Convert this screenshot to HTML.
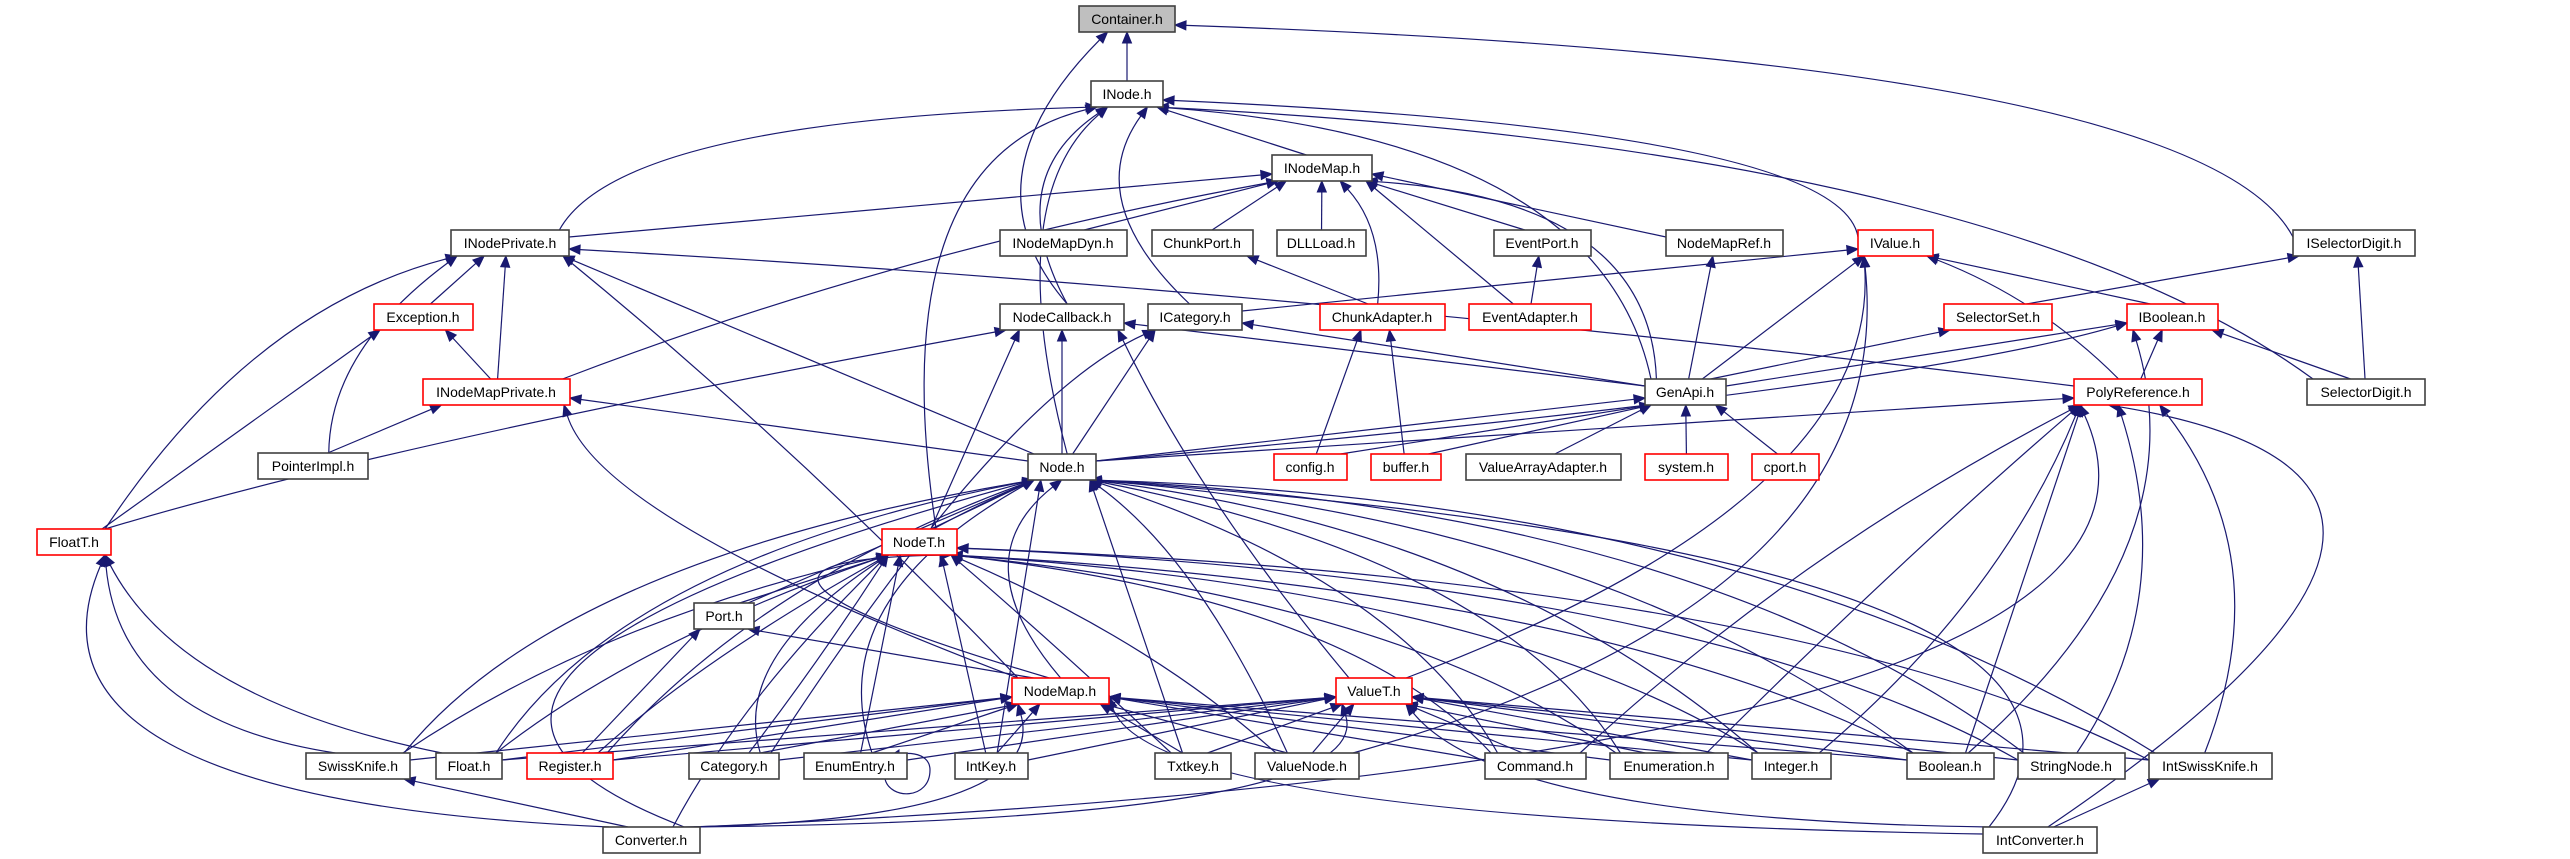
<!DOCTYPE html>
<html><head><meta charset="utf-8">
<style>
html,body{margin:0;padding:0;background:#fff;width:2570px;height:859px;overflow:hidden}
svg{display:block}
text{font-family:"Liberation Sans",sans-serif;font-size:14px;fill:#000}
</style></head>
<body>
<svg id="g" width="2570" height="859" viewBox="0 0 2570 859" xmlns="http://www.w3.org/2000/svg">
<g id="edges" fill="none" stroke="#191970" stroke-width="1.2"></g>
<g id="heads" fill="#191970" stroke="#191970"></g>
<g id="nodes" stroke-width="1.6">
<rect x="1079" y="6" width="96" height="26" fill="#bfbfbf" stroke="#404040"/><text x="1127" y="24" text-anchor="middle">Container.h</text>
<rect x="1091" y="81" width="72" height="26" fill="#fff" stroke="#404040"/><text x="1127" y="99" text-anchor="middle">INode.h</text>
<rect x="1272" y="155" width="100" height="26" fill="#fff" stroke="#404040"/><text x="1322" y="173" text-anchor="middle">INodeMap.h</text>
<rect x="451" y="230" width="118" height="26" fill="#fff" stroke="#404040"/><text x="510" y="248" text-anchor="middle">INodePrivate.h</text>
<rect x="1000" y="230" width="127" height="26" fill="#fff" stroke="#404040"/><text x="1063" y="248" text-anchor="middle">INodeMapDyn.h</text>
<rect x="1152" y="230" width="101" height="26" fill="#fff" stroke="#404040"/><text x="1202" y="248" text-anchor="middle">ChunkPort.h</text>
<rect x="1277" y="230" width="89" height="26" fill="#fff" stroke="#404040"/><text x="1321" y="248" text-anchor="middle">DLLLoad.h</text>
<rect x="1494" y="230" width="97" height="26" fill="#fff" stroke="#404040"/><text x="1542" y="248" text-anchor="middle">EventPort.h</text>
<rect x="1666" y="230" width="117" height="26" fill="#fff" stroke="#404040"/><text x="1724" y="248" text-anchor="middle">NodeMapRef.h</text>
<rect x="1858" y="230" width="75" height="26" fill="#fff" stroke="#ff0000"/><text x="1895" y="248" text-anchor="middle">IValue.h</text>
<rect x="2293" y="230" width="122" height="26" fill="#fff" stroke="#404040"/><text x="2354" y="248" text-anchor="middle">ISelectorDigit.h</text>
<rect x="374" y="304" width="99" height="26" fill="#fff" stroke="#ff0000"/><text x="423" y="322" text-anchor="middle">Exception.h</text>
<rect x="1000" y="304" width="124" height="26" fill="#fff" stroke="#404040"/><text x="1062" y="322" text-anchor="middle">NodeCallback.h</text>
<rect x="1148" y="304" width="94" height="26" fill="#fff" stroke="#404040"/><text x="1195" y="322" text-anchor="middle">ICategory.h</text>
<rect x="1320" y="304" width="125" height="26" fill="#fff" stroke="#ff0000"/><text x="1382" y="322" text-anchor="middle">ChunkAdapter.h</text>
<rect x="1469" y="304" width="122" height="26" fill="#fff" stroke="#ff0000"/><text x="1530" y="322" text-anchor="middle">EventAdapter.h</text>
<rect x="1944" y="304" width="108" height="26" fill="#fff" stroke="#ff0000"/><text x="1998" y="322" text-anchor="middle">SelectorSet.h</text>
<rect x="2127" y="304" width="91" height="26" fill="#fff" stroke="#ff0000"/><text x="2172" y="322" text-anchor="middle">IBoolean.h</text>
<rect x="423" y="379" width="147" height="26" fill="#fff" stroke="#ff0000"/><text x="496" y="397" text-anchor="middle">INodeMapPrivate.h</text>
<rect x="1645" y="379" width="81" height="26" fill="#fff" stroke="#404040"/><text x="1685" y="397" text-anchor="middle">GenApi.h</text>
<rect x="2074" y="379" width="128" height="26" fill="#fff" stroke="#ff0000"/><text x="2138" y="397" text-anchor="middle">PolyReference.h</text>
<rect x="2307" y="379" width="118" height="26" fill="#fff" stroke="#404040"/><text x="2366" y="397" text-anchor="middle">SelectorDigit.h</text>
<rect x="258" y="453" width="110" height="26" fill="#fff" stroke="#404040"/><text x="313" y="471" text-anchor="middle">PointerImpl.h</text>
<rect x="1028" y="454" width="68" height="26" fill="#fff" stroke="#404040"/><text x="1062" y="472" text-anchor="middle">Node.h</text>
<rect x="1274" y="454" width="73" height="26" fill="#fff" stroke="#ff0000"/><text x="1310" y="472" text-anchor="middle">config.h</text>
<rect x="1371" y="454" width="70" height="26" fill="#fff" stroke="#ff0000"/><text x="1406" y="472" text-anchor="middle">buffer.h</text>
<rect x="1466" y="454" width="155" height="26" fill="#fff" stroke="#404040"/><text x="1543" y="472" text-anchor="middle">ValueArrayAdapter.h</text>
<rect x="1645" y="454" width="83" height="26" fill="#fff" stroke="#ff0000"/><text x="1686" y="472" text-anchor="middle">system.h</text>
<rect x="1752" y="454" width="67" height="26" fill="#fff" stroke="#ff0000"/><text x="1785" y="472" text-anchor="middle">cport.h</text>
<rect x="37" y="529" width="74" height="26" fill="#fff" stroke="#ff0000"/><text x="74" y="547" text-anchor="middle">FloatT.h</text>
<rect x="882" y="529" width="75" height="26" fill="#fff" stroke="#ff0000"/><text x="919" y="547" text-anchor="middle">NodeT.h</text>
<rect x="694" y="603" width="60" height="26" fill="#fff" stroke="#404040"/><text x="724" y="621" text-anchor="middle">Port.h</text>
<rect x="1012" y="678" width="97" height="26" fill="#fff" stroke="#ff0000"/><text x="1060" y="696" text-anchor="middle">NodeMap.h</text>
<rect x="1336" y="678" width="76" height="26" fill="#fff" stroke="#ff0000"/><text x="1374" y="696" text-anchor="middle">ValueT.h</text>
<rect x="306" y="753" width="104" height="26" fill="#fff" stroke="#404040"/><text x="358" y="771" text-anchor="middle">SwissKnife.h</text>
<rect x="436" y="753" width="66" height="26" fill="#fff" stroke="#404040"/><text x="469" y="771" text-anchor="middle">Float.h</text>
<rect x="527" y="753" width="86" height="26" fill="#fff" stroke="#ff0000"/><text x="570" y="771" text-anchor="middle">Register.h</text>
<rect x="689" y="753" width="90" height="26" fill="#fff" stroke="#404040"/><text x="734" y="771" text-anchor="middle">Category.h</text>
<rect x="804" y="753" width="103" height="26" fill="#fff" stroke="#404040"/><text x="855" y="771" text-anchor="middle">EnumEntry.h</text>
<rect x="955" y="753" width="73" height="26" fill="#fff" stroke="#404040"/><text x="991" y="771" text-anchor="middle">IntKey.h</text>
<rect x="1155" y="753" width="76" height="26" fill="#fff" stroke="#404040"/><text x="1193" y="771" text-anchor="middle">Txtkey.h</text>
<rect x="1255" y="753" width="104" height="26" fill="#fff" stroke="#404040"/><text x="1307" y="771" text-anchor="middle">ValueNode.h</text>
<rect x="1485" y="753" width="101" height="26" fill="#fff" stroke="#404040"/><text x="1535" y="771" text-anchor="middle">Command.h</text>
<rect x="1610" y="753" width="118" height="26" fill="#fff" stroke="#404040"/><text x="1669" y="771" text-anchor="middle">Enumeration.h</text>
<rect x="1752" y="753" width="79" height="26" fill="#fff" stroke="#404040"/><text x="1791" y="771" text-anchor="middle">Integer.h</text>
<rect x="1907" y="753" width="87" height="26" fill="#fff" stroke="#404040"/><text x="1950" y="771" text-anchor="middle">Boolean.h</text>
<rect x="2018" y="753" width="107" height="26" fill="#fff" stroke="#404040"/><text x="2071" y="771" text-anchor="middle">StringNode.h</text>
<rect x="2149" y="753" width="123" height="26" fill="#fff" stroke="#404040"/><text x="2210" y="771" text-anchor="middle">IntSwissKnife.h</text>
<rect x="603" y="827" width="97" height="26" fill="#fff" stroke="#404040"/><text x="651" y="845" text-anchor="middle">Converter.h</text>
<rect x="1983" y="827" width="114" height="26" fill="#fff" stroke="#404040"/><text x="2040" y="845" text-anchor="middle">IntConverter.h</text>
</g>
</svg>
<script>
var N={Container:[1079,6,1175],INode:[1091,81,1163],INodeMap:[1272,155,1372],INodePrivate:[451,230,569],INodeMapDyn:[1000,230,1127],ChunkPort:[1152,230,1253],DLLLoad:[1277,230,1366],EventPort:[1494,230,1591],NodeMapRef:[1666,230,1783],IValue:[1858,230,1933],ISelectorDigit:[2293,230,2415],Exception:[374,304,473],NodeCallback:[1000,304,1124],ICategory:[1148,304,1242],ChunkAdapter:[1320,304,1445],EventAdapter:[1469,304,1591],SelectorSet:[1944,304,2052],IBoolean:[2127,304,2218],INodeMapPrivate:[423,379,570],GenApi:[1645,379,1726],PolyReference:[2074,379,2202],SelectorDigit:[2307,379,2425],PointerImpl:[258,453,368],Node:[1028,454,1096],config:[1274,454,1347],buffer:[1371,454,1441],ValueArrayAdapter:[1466,454,1621],system:[1645,454,1728],cport:[1752,454,1819],FloatT:[37,529,111],NodeT:[882,529,957],Port:[694,603,754],NodeMap:[1012,678,1109],ValueT:[1336,678,1412],SwissKnife:[306,753,410],Float:[436,753,502],Register:[527,753,613],Category:[689,753,779],EnumEntry:[804,753,907],IntKey:[955,753,1028],Txtkey:[1155,753,1231],ValueNode:[1255,753,1359],Command:[1485,753,1586],Enumeration:[1610,753,1728],Integer:[1752,753,1831],Boolean:[1907,753,1994],StringNode:[2018,753,2125],IntSwissKnife:[2149,753,2272],Converter:[603,827,700],IntConverter:[1983,827,2097]};
var H=26;
var E=[
["INode","Container"],["NodeCallback","Container",[960,180]],["ISelectorDigit","Container",[2200,60]],
["INodeMap","INode"],["INodePrivate","INode",[620,120]],["NodeT","INode",[880,160]],["NodeCallback","INode",[1000,180]],["Node","INode",[1000,200]],["ICategory","INode",[1080,200]],["GenApi","INode",[1600,140]],["IValue","INode",[1840,130]],["SelectorDigit","INode",[2000,150]],
["INodePrivate","INodeMap"],["INodeMapPrivate","INodeMap",[900,250]],["INodeMapDyn","INodeMap"],["ChunkPort","INodeMap"],["DLLLoad","INodeMap"],["ChunkAdapter","INodeMap",[1385,230]],["EventAdapter","INodeMap"],["EventPort","INodeMap"],["NodeMapRef","INodeMap"],["GenApi","INodeMap",[1650,200]],
["Exception","INodePrivate"],["INodeMapPrivate","INodePrivate"],["PointerImpl","INodePrivate",[330,350]],["FloatT","INodePrivate",[250,310]],["Node","INodePrivate"],["NodeMap","INodePrivate",[800,450]],["PolyReference","INodePrivate",[1300,290]],
["INodeMapPrivate","Exception"],["FloatT","Exception"],
["PointerImpl","INodeMapPrivate"],["Node","INodeMapPrivate"],["NodeMap","INodeMapPrivate",[600,520]],
["ICategory","IValue"],["GenApi","IValue"],["ValueT","IValue",[1880,500]],["ValueNode","IValue",[1900,600]],["IBoolean","IValue"],["PolyReference","IValue",[2040,300]],
["GenApi","ICategory"],["Node","ICategory"],["Category","ICategory",[1000,400]],
["FloatT","NodeCallback",[400,440]],["GenApi","NodeCallback"],["Node","NodeCallback"],["NodeT","NodeCallback"],["ValueT","NodeCallback",[1200,500]],
["ChunkAdapter","ChunkPort"],["config","ChunkAdapter"],["buffer","ChunkAdapter"],["EventAdapter","EventPort"],["GenApi","NodeMapRef"],
["SelectorSet","ISelectorDigit"],["SelectorDigit","ISelectorDigit"],["GenApi","SelectorSet"],
["GenApi","IBoolean"],["PolyReference","IBoolean"],["SelectorDigit","IBoolean"],["Node","IBoolean",[1900,390]],["Boolean","IBoolean",[2200,550]],
["Node","GenApi"],["config","GenApi"],["buffer","GenApi"],["ValueArrayAdapter","GenApi"],["system","GenApi"],["cport","GenApi"],
["Node","PolyReference"],["Command","PolyReference",[1800,550]],["Enumeration","PolyReference",[1900,560]],["Integer","PolyReference",[2000,600]],["Boolean","PolyReference"],["StringNode","PolyReference",[2180,600]],["IntSwissKnife","PolyReference",[2280,560]],["Converter","PolyReference",[2240,760]],["IntConverter","PolyReference",[2560,480]],
["NodeT","Node"],["Port","Node"],["NodeMap","Node",[960,560]],["SwissKnife","Node",[560,560]],["Float","Node",[620,560]],["Register","Node",[760,580]],["Category","Node",[720,620]],["EnumEntry","Node",[820,600]],["IntKey","Node"],["Txtkey","Node"],["ValueNode","Node",[1200,560]],["Command","Node",[1400,580]],["Enumeration","Node",[1500,560]],["Integer","Node",[1500,530]],["Boolean","Node",[1600,520]],["StringNode","Node",[1700,510]],["IntSwissKnife","Node",[1750,500]],["Converter","Node",[300,680]],["IntConverter","Node",[2200,560]],
["SwissKnife","FloatT",[120,720]],["Float","FloatT",[180,700]],["Converter","FloatT",[0,800]],
["Port","NodeT"],["NodeMap","NodeT",[650,560]],["SwissKnife","NodeT",[600,620]],["Float","NodeT",[640,640]],["Register","NodeT",[700,660]],["Category","NodeT",[820,660]],["EnumEntry","NodeT"],["IntKey","NodeT"],["Txtkey","NodeT",[1050,640]],["ValueNode","NodeT",[1150,640]],["Command","NodeT",[1350,600]],["Enumeration","NodeT",[1400,600]],["Integer","NodeT",[1500,590]],["Boolean","NodeT",[1600,590]],["StringNode","NodeT",[1700,580]],["IntSwissKnife","NodeT",[1800,580]],["Converter","NodeT",[740,700]],
["Register","Port"],["NodeMap","Port"],
["SwissKnife","NodeMap"],["Float","NodeMap"],["Register","NodeMap"],["Category","NodeMap"],["EnumEntry","NodeMap"],["IntKey","NodeMap"],["Txtkey","NodeMap"],["ValueNode","NodeMap"],["Command","NodeMap"],["Enumeration","NodeMap"],["Integer","NodeMap"],["Boolean","NodeMap"],["Converter","NodeMap",[1050,820]],["IntConverter","NodeMap",[1150,820]],
["Float","ValueT"],["Register","ValueT"],["Category","ValueT"],["EnumEntry","ValueT"],["IntKey","ValueT"],["Txtkey","ValueT"],["ValueNode","ValueT"],["Command","ValueT"],["Enumeration","ValueT"],["Integer","ValueT"],["Boolean","ValueT"],["StringNode","ValueT"],["IntSwissKnife","ValueT"],["Converter","ValueT",[1380,820]],["IntConverter","ValueT",[1500,820]],
["Converter","SwissKnife"],["IntConverter","IntSwissKnife"]
];
function cl(v,a,b){return Math.max(a,Math.min(b,v));}
var pe="",ph="";
E.forEach(function(e){
 var c=N[e[0]],p=N[e[1]];
 var cc=(c[0]+c[2])/2,pc=(p[0]+p[2])/2;
 var x1,y1,x2,y2;
 var dy=c[1]-p[1],dx=cc-pc;
 if(dy<=0||Math.abs(dx)>5*Math.abs(dy)){
   if(dx<0){x2=p[0];x1=c[2];}else{x2=p[2];x1=c[0];}
   y2=p[1]+H/2+ (dy>0?6:0); y1=c[1]+H/2-(dy>0?6:0);
   if(dy<0){x1=cc+(dx<0?-1:1)*0; y1=c[1]+H; x2=cl(pc+dx*0.2,p[0]+6,p[2]-6); y2=p[1];}
 } else {
   x2=cl(pc+dx*0.3,p[0]+6,p[2]-6); y2=p[1]+H;
   x1=cl(cc-dx*0.08,c[0]+6,c[2]-6); y1=c[1];
 }
 var q=e[2];
 var fx=q?q[0]:x1,fy=q?q[1]:y1;
 var vx=x2-fx,vy=y2-fy,L=Math.sqrt(vx*vx+vy*vy)||1;vx/=L;vy/=L;
 var bx=x2-vx*11,by=y2-vy*11;
 if(q){pe+='<path d="M'+x1+' '+y1+' Q'+q[0]+' '+q[1]+' '+bx.toFixed(1)+' '+by.toFixed(1)+'"/>';}
 else pe+='<path d="M'+x1+' '+y1+' L'+bx.toFixed(1)+' '+by.toFixed(1)+'"/>';
 var nx=-vy*4.5,ny=vx*4.5;
 ph+='<polygon points="'+x2.toFixed(1)+','+y2.toFixed(1)+' '+(bx+nx).toFixed(1)+','+(by+ny).toFixed(1)+' '+(bx-nx).toFixed(1)+','+(by-ny).toFixed(1)+'"/>';
});
pe+='<path d="M885 779 C 890 800, 930 800, 930 770 C 930 750, 900 752, 895 756"/>';
ph+='<polygon points="889,757 899,750 899,762"/>';
document.getElementById("edges").innerHTML=pe;
document.getElementById("heads").innerHTML=ph;
</script>
</body></html>
